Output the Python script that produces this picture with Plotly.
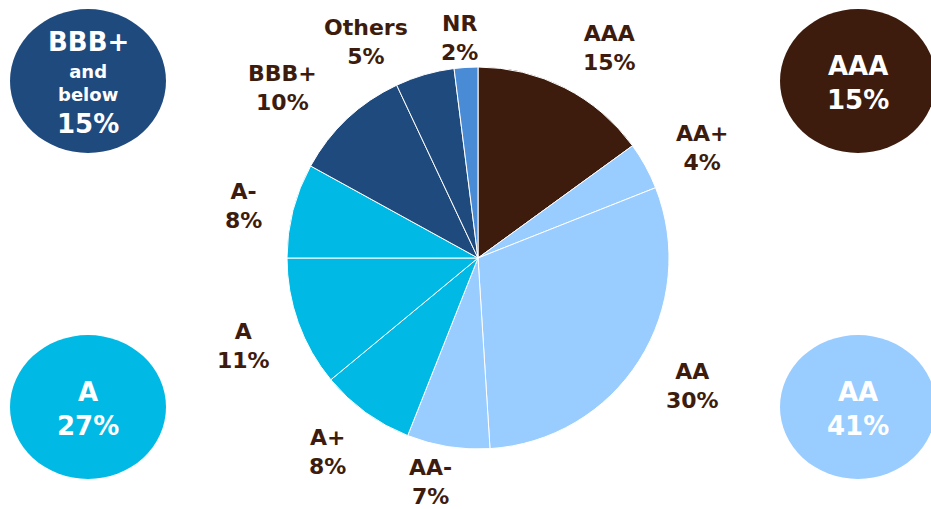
import plotly.graph_objects as go

W, H = 931, 509

# ---- data ----
ratings = ["AAA", "AA+", "AA", "AA-", "A+", "A", "A-", "BBB+", "Others", "NR"]
shares = [15, 4, 30, 7, 8, 11, 8, 10, 5, 2]
slice_colors = ["#3D1C0D", "#99CCFF", "#99CCFF", "#99CCFF", "#00B9E4",
                "#00B9E4", "#00B9E4", "#1F4A7E", "#1F4A7E", "#4A8BD6"]

groups = ["BBB+", "AAA", "A", "AA"]
group_notes = ["and<br>below", "", "", ""]
group_shares = [15, 15, 27, 41]
group_colors = ["#1F4A7E", "#3D1C0D", "#00B9E4", "#99CCFF"]

# ---- layout helpers (pixel -> paper) ----
def px(x):
    return x / W

def py(y):
    return 1 - y / H

cx, cy, r = 478, 258, 191

fig = go.Figure()
fig.add_trace(go.Pie(
    labels=ratings, values=shares, sort=False, direction="clockwise",
    rotation=0, textinfo="none", hoverinfo="label+percent",
    marker=dict(colors=slice_colors, line=dict(color="white", width=1)),
    domain=dict(x=[px(cx - r), px(cx + r)], y=[py(cy + r), py(cy - r)]),
    showlegend=False,
))

# label positions (pixel centres) for the pie labels
label_pos = {
    "AAA": (609, 48), "AA+": (702, 148), "AA": (692, 386), "AA-": (430, 482),
    "A+": (327, 452), "A": (243, 346), "A-": (243, 206), "BBB+": (282, 88),
    "Others": (366, 42), "NR": (459, 38),
}
for name, val in zip(ratings, shares):
    x, y = label_pos[name]
    fig.add_annotation(
        x=px(x), y=py(y), xref="paper", yref="paper", showarrow=False,
        text=f"<b>{name}<br>{val}%</b>", align="center",
        font=dict(family="DejaVu Sans", size=22, color="#3D1C0D"),
        xanchor="center", yanchor="middle",
    )

# summary bubbles
bubble_pos = [(88, 81), (858, 81), (88, 407), (858, 407)]
rx, ry = 78, 72
for (bx, by), g, note, s, c in zip(bubble_pos, groups, group_notes, group_shares, group_colors):
    fig.add_shape(type="circle", xref="paper", yref="paper",
                  x0=px(bx - rx), x1=px(bx + rx), y0=py(by + ry), y1=py(by - ry),
                  fillcolor=c, line=dict(width=0), layer="below")
    big = dict(family="DejaVu Sans", size=26, color="white")
    if note:
        items = [(g, by - 39, big), (note, by + 2, dict(family="DejaVu Sans", size=18, color="white")),
                 (f"{s}%", by + 43, big)]
    else:
        items = [(f"{g}<br>{s}%", by + 2, big)]
    for txt, ty, f in items:
        fig.add_annotation(
            x=px(bx), y=py(ty), xref="paper", yref="paper", showarrow=False,
            text=f"<b>{txt}</b>", align="center", font=f,
            xanchor="center", yanchor="middle",
        )

fig.update_layout(
    width=W, height=H, margin=dict(l=0, r=0, t=0, b=0),
    paper_bgcolor="white", plot_bgcolor="white",
)
fig.write_html("out.html", config={"displayModeBar": False},
               post_script="document.body.style.margin='0';")
